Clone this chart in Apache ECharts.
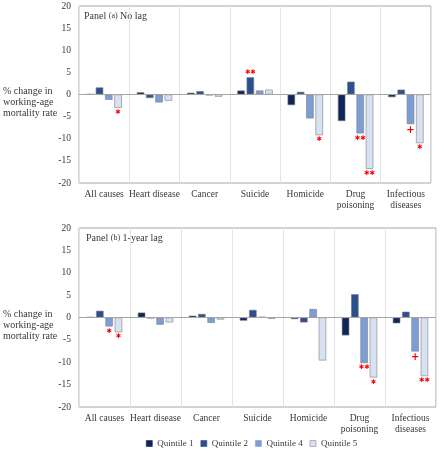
<!DOCTYPE html>
<html><head><meta charset="utf-8">
<script src="https://cdn.jsdelivr.net/npm/echarts@6/dist/echarts.min.js"></script>
<style>html,body{margin:0;padding:0;background:#fff}#c{width:440px;height:449px}</style>
</head><body><div id="c"></div>
<script>
const categories = ['All causes','Heart disease','Cancer','Suicide','Homicide','Drug\npoisoning','Infectious\ndiseases'];
const quintiles = ['Quintile 1','Quintile 2','Quintile 4','Quintile 5'];
const yTicks = {min:-20, max:20, interval:5};

// Panel (a) No lag
const a_q1 = [0.1, 0.5, 0.4, 0.9, -2.4, -6.0, -0.6];
const a_q2 = [1.6, -0.8, 0.75, 3.9, 0.6, 2.9, 1.1];
const a_q4 = [-1.2, -1.8, -0.2, 0.9, -5.4, -8.8, -6.7];
const a_q5 = [-3.0, -1.4, -0.5, 1.1, -9.2, -16.8, -11.0];
const a_m1 = ['', '', '', '', '', '', ''];
const a_m2 = ['', '', '', '**', '', '', ''];
const a_m4 = ['', '', '', '', '', '**', '+'];
const a_m5 = ['*', '', '', '', '*', '**', '*'];

// Panel (b) 1-year lag
const b_q1 = [0.1, 1.1, 0.4, -0.7, -0.35, -4.0, -1.3];
const b_q2 = [1.5, -0.2, 0.8, 1.7, -1.1, 5.2, 1.3];
const b_q4 = [-2.0, -1.6, -1.2, 0.15, 1.9, -10.2, -7.6];
const b_q5 = [-3.3, -1.1, -0.45, -0.3, -9.6, -13.4, -13.1];
const b_m1 = ['', '', '', '', '', '', ''];
const b_m2 = ['', '', '', '', '', '', ''];
const b_m4 = ['*', '', '', '', '', '**', '+'];
const b_m5 = ['*', '', '', '', '', '*', '**'];

const colors = ['#0f2457', '#2c4f8e', '#7d9dd7', '#d8e1f2'];
const FONT = 'Liberation Serif';
const TXT = '#383838';

function mk(vals, marks) {
  return vals.map((v, i) => {
    const m = marks[i];
    if (!m) return v;
    const txt = m.replace(/\*/g, '\u2731');
    return {value: v, label: {show: true, position: 'outside', distance: 1, formatter: txt,
      color: '#ff0000', fontSize: m === '+' ? 10 : 6.5, fontFamily: 'DejaVu Sans', fontWeight: 'bold'}};
  });
}

function bars(panel, idx, vals, marks) {
  return {
    name: quintiles[idx], type: 'bar', xAxisIndex: panel, yAxisIndex: panel,
    data: mk(vals, marks), barWidth: 7.5, barGap: '24%',
    itemStyle: {color: colors[idx], borderColor: '#7f7f7f', borderWidth: 0.6},
    label: {show: false}, z: 2,
    markLine: idx === 0 ? {silent: true, symbol: 'none', label: {show: false},
      lineStyle: {color: '#a6a6a6', width: 1, type: 'solid'}, data: [{yAxis: 0}]} : undefined
  };
}

function xAx(gi) {
  return {type: 'category', gridIndex: gi, data: categories,
    axisLine: {show: false}, axisTick: {show: false},
    splitLine: {show: true, lineStyle: {color: '#e4e4e4', width: 1}},
    axisLabel: {interval: 0, margin: 6, color: TXT, fontFamily: FONT, fontSize: 9.5, lineHeight: 11}};
}
function yAx(gi) {
  return {type: 'value', gridIndex: gi, min: yTicks.min, max: yTicks.max, interval: yTicks.interval,
    axisLine: {show: false}, axisTick: {show: false}, splitLine: {show: false},
    axisLabel: {margin: 8, color: TXT, fontFamily: FONT, fontSize: 9.5}};
}

const chart = echarts.init(document.getElementById('c'), null, {renderer: 'canvas'});
chart.setOption({
  animation: false,
  grid: [
    {left: 79, top: 6, width: 352, height: 177, show: true, borderColor: '#a6a6a6', borderWidth: 1},
    {left: 79, top: 228, width: 357, height: 179, show: true, borderColor: '#a6a6a6', borderWidth: 1}
  ],
  xAxis: [xAx(0), xAx(1)],
  yAxis: [yAx(0), yAx(1)],
  legend: {data: quintiles.map((q, i) => ({name: q, itemStyle: {color: colors[i], borderColor: i === 3 ? '#8c8c8c' : colors[i], borderWidth: 0.6}})),
    left: 146, top: 439, padding: 0, icon: 'rect', itemWidth: 6, itemHeight: 6, itemGap: 7,
    textStyle: {color: TXT, fontFamily: FONT, fontSize: 9}},
  graphic: [
    {type: 'text', left: 3, top: 86, style: {text: '% change in\nworking-age\nmortality rate', font: '10px "Liberation Serif"', fill: TXT, lineHeight: 11}},
    {type: 'text', left: 3, top: 309, style: {text: '% change in\nworking-age\nmortality rate', font: '10px "Liberation Serif"', fill: TXT, lineHeight: 11}},
    {type: 'text', left: 84, top: 11, style: {text: '{a|Panel }{b|(a)}{a| No lag}', rich: {a: {fontFamily: FONT, fontSize: 10, fill: TXT}, b: {fontFamily: FONT, fontSize: 8, fill: TXT}}}},
    {type: 'text', left: 86, top: 233, style: {text: '{a|Panel }{b|(b)}{a| 1-year lag}', rich: {a: {fontFamily: FONT, fontSize: 10, fill: TXT}, b: {fontFamily: FONT, fontSize: 8, fill: TXT}}}}
  ],
  series: [
    bars(0, 0, a_q1, a_m1), bars(0, 1, a_q2, a_m2), bars(0, 2, a_q4, a_m4), bars(0, 3, a_q5, a_m5),
    bars(1, 0, b_q1, b_m1), bars(1, 1, b_q2, b_m2), bars(1, 2, b_q4, b_m4), bars(1, 3, b_q5, b_m5)
  ]
});
</script></body></html>
